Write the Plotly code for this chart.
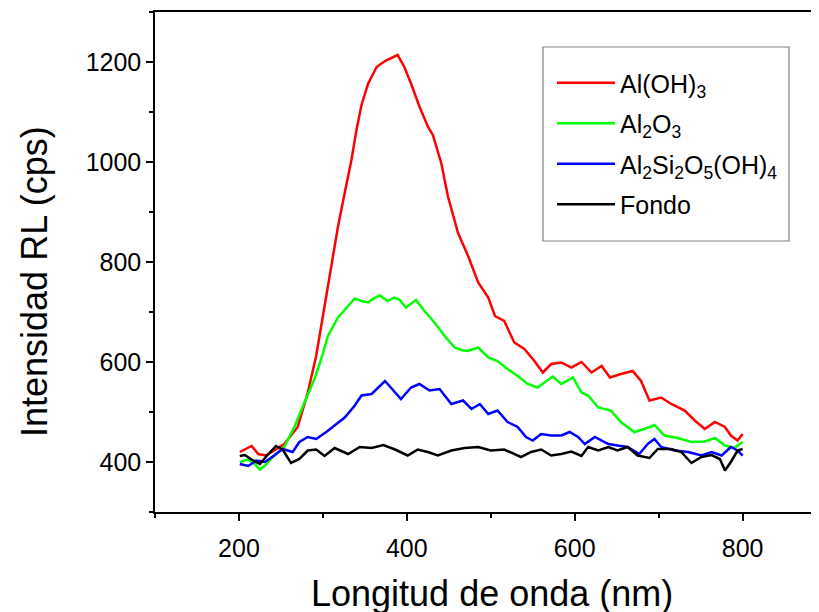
import plotly.graph_objects as go

# ---- data ----
red_x = [201,215,223,232,242,254,270,282,292,302,310,318,326,334,340,346,354,364,374,381,389,397,405,415,425,431,441,449,461,473,485,497,505,516,528,540,552,562,572,584,596,608,620,632,642,655,669,679,689,703,715,731,743,755,767,779,786,794,800]
red_y = [420,432,416,413,423,436,470,539,612,712,792,871,938,1004,1064,1114,1157,1190,1202,1207,1214,1190,1157,1111,1071,1054,998,931,858,812,759,729,692,682,639,626,602,579,596,599,589,600,579,592,569,576,582,562,523,529,516,503,483,466,480,470,453,443,456]

green_x = [201,211,219,225,231,242,254,266,278,290,298,306,318,330,338,346,354,361,368,377,385,391,399,411,421,433,445,457,465,473,485,497,508,520,532,544,556,564,574,584,598,608,616,628,643,655,671,683,695,707,723,739,755,767,779,790,800]
green_y = [400,405,396,385,393,413,430,470,519,566,606,652,689,712,727,722,719,728,733,722,729,725,709,724,702,679,652,629,624,622,629,609,602,586,572,556,549,559,571,556,569,539,533,509,503,480,460,466,474,453,448,440,441,448,433,428,440]

blue_x = [201,211,221,231,242,252,264,272,282,292,304,314,326,338,346,358,366,374,384,393,405,415,427,439,453,467,477,487,497,508,520,532,542,550,560,572,584,594,604,612,624,640,651,663,677,687,695,703,719,735,751,763,775,786,794,800]
blue_y = [396,392,403,400,413,426,420,440,450,446,460,473,489,513,533,536,549,562,543,526,549,556,543,546,516,523,506,516,496,503,480,470,450,443,456,453,453,460,450,436,450,436,433,430,416,436,446,430,423,420,413,420,413,430,423,413]

black_x = [201,207,215,225,232,244,252,262,272,282,292,302,314,330,344,358,372,386,401,413,425,437,453,469,485,500,516,528,536,548,560,572,584,596,608,616,628,640,651,663,675,689,699,715,727,739,751,763,773,779,786,794,800]
black_y = [412,414,405,396,410,432,425,398,406,423,425,412,428,416,430,428,434,425,413,425,420,413,423,428,430,423,425,416,410,420,425,413,416,421,412,430,423,430,423,430,413,408,426,426,420,398,410,414,406,383,400,423,426]

names = ["Al(OH)<sub>3</sub>", "Al<sub>2</sub>O<sub>3</sub>",
         "Al<sub>2</sub>Si<sub>2</sub>O<sub>5</sub>(OH)<sub>4</sub>", "Fondo"]
colors = ["#FF0000", "#00FF00", "#0000FF", "#000000"]

x_title = "Longitud de onda (nm)"
y_title = "Intensidad RL (cps)"

FONT = "Arial, Liberation Sans, sans-serif"

fig = go.Figure()
for i, (xs, ys) in enumerate([(red_x, red_y), (green_x, green_y), (blue_x, blue_y), (black_x, black_y)]):
    fig.add_trace(go.Scatter(x=xs, y=ys, mode="lines", name=names[i],
                             legendgroup=f"g{i}",
                             line=dict(color=colors[i], width=2.5)))

axis_common = dict(showline=True, linecolor="black", linewidth=1.5,
                   ticks="outside", ticklen=7, tickwidth=1.5, tickcolor="black",
                   showgrid=False, zeroline=False,
                   tickfont=dict(family=FONT, size=25, color="black"))

fig.update_xaxes(range=[100, 891], tick0=200, dtick=200, mirror=True,
                 minor=dict(dtick=100, tick0=100, ticks="outside", ticklen=4, tickwidth=1.5, tickcolor="black"),
                 ticklabelstandoff=6,
                 **axis_common)
fig.update_yaxes(range=[300, 1300], tick0=400, dtick=200,
                 minor=dict(dtick=100, tick0=300, ticks="outside", ticklen=4, tickwidth=1.5, tickcolor="black"),
                 **axis_common)

fig.add_annotation(text=x_title, xref="paper", yref="paper", x=0.5075, y=0,
                   yanchor="middle", yshift=-81, showarrow=False,
                   font=dict(family=FONT, size=36, color="black"))
fig.add_annotation(text=y_title, xref="paper", yref="paper", x=0, y=0.46,
                   xanchor="center", xshift=-121, textangle=-90, showarrow=False,
                   font=dict(family=FONT, size=36, color="black"))

# legend frame
fig.add_shape(type="rect", xref="paper", yref="paper",
              x0=(543-155)/664, x1=(789-155)/664, y0=(512-241)/500, y1=(512-47)/500,
              line=dict(color="#808080", width=1.2), fillcolor="rgba(0,0,0,0)")

fig.update_layout(
    width=811, height=604, autosize=False,
    margin=dict(l=147, r=0, t=4, b=100),
    plot_bgcolor="white", paper_bgcolor="white",
    font=dict(family=FONT, color="black"),
    showlegend=True,
    legend=dict(x=(552-155)/664, y=(512-60)/500, xanchor="left", yanchor="top",
                bgcolor="rgba(0,0,0,0)", borderwidth=0,
                font=dict(family=FONT, size=25, color="black"),
                itemwidth=58, tracegroupgap=5, traceorder="grouped"),
)

fig.write_html("out.html")
